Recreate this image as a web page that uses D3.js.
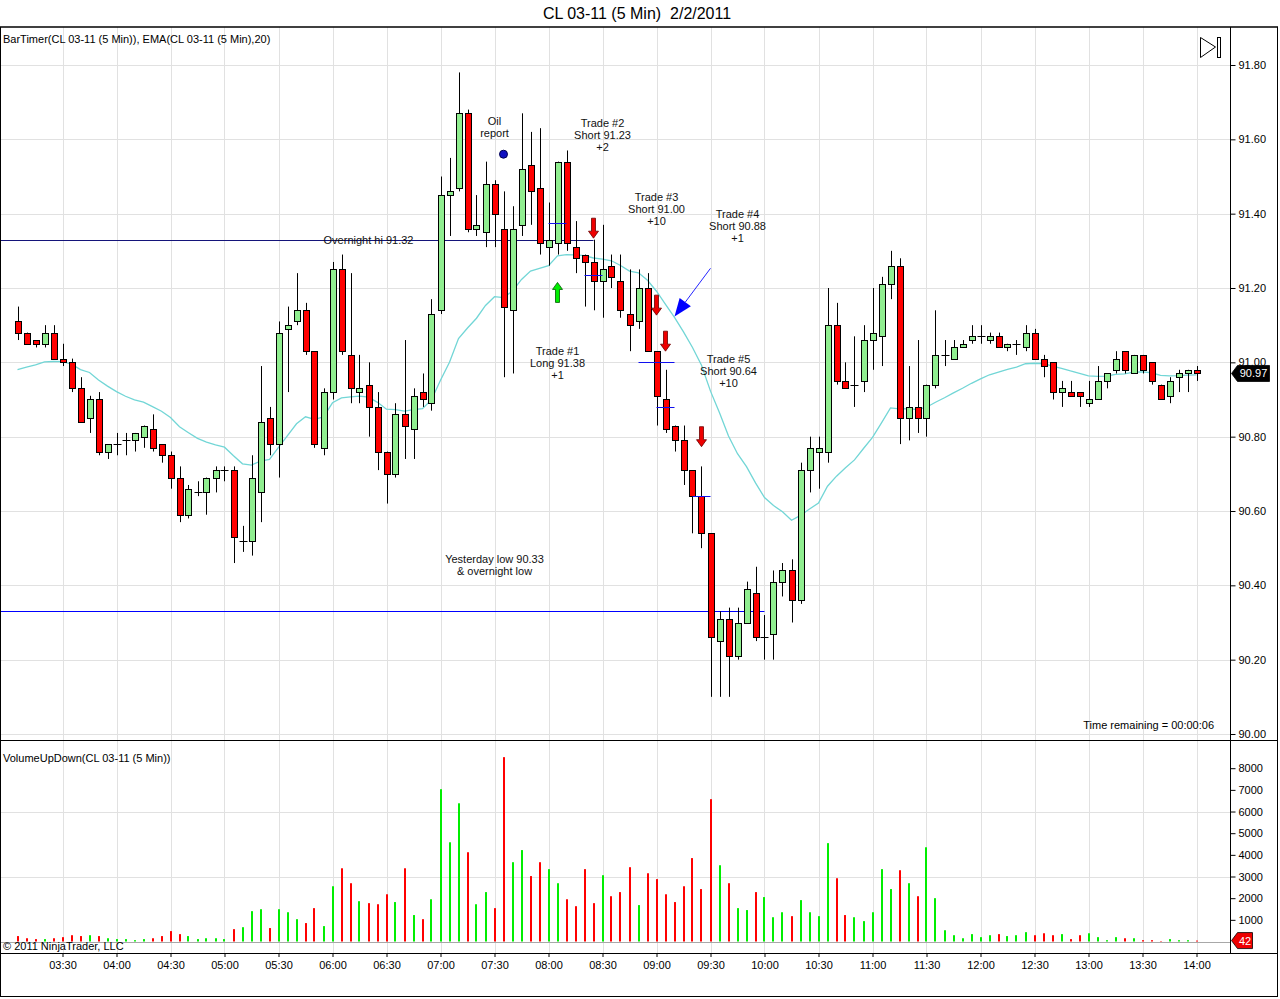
<!DOCTYPE html>
<html>
<head>
<meta charset="utf-8">
<script src="https://cdn.jsdelivr.net/npm/d3@7"></script>
<style>
  body { margin: 0; background: #fff; }
  svg { display: block; }
  text { font-family: "Liberation Sans", Arial, sans-serif; }
</style>
</head>
<body>
<svg id="chart"></svg>
<script>
// --- bar data, CL 03-11 5 min, 2/2/2011 ---
const startTime = "03:05";
const opens = [91.11,91.08,91.06,91.05,91.08,91.01,91.00,90.93,90.85,90.90,90.76,90.78,90.79,90.79,90.80,90.82,90.78,90.75,90.69,90.59,
  90.65,90.65,90.69,90.71,90.71,90.52,90.52,90.65,90.85,90.78,91.09,91.11,91.14,91.03,90.77,90.92,91.25,91.02,90.92,90.94,
  90.88,90.76,90.70,90.86,90.82,90.92,90.89,91.14,91.45,91.47,91.67,91.36,91.35,91.48,91.36,91.14,91.37,91.53,91.47,91.31,
  91.32,91.54,91.31,91.29,91.27,91.22,91.26,91.22,91.13,91.11,91.20,91.03,90.90,90.83,90.79,90.71,90.64,90.54,90.25,90.31,
  90.21,90.30,90.38,90.26,90.27,90.41,90.44,90.36,90.71,90.76,90.76,91.10,90.95,90.94,90.95,91.06,91.07,91.21,91.26,90.85,
  90.88,90.85,90.94,91.02,91.01,91.04,91.06,91.07,91.06,91.07,91.04,91.05,91.04,91.08,91.01,91.00,90.92,90.92,90.92,90.89,
  90.90,90.95,90.98,91.03,90.97,91.02,91.00,90.94,90.91,90.96,90.97,90.98];
const highs = [91.15,91.08,91.06,91.10,91.10,91.05,91.01,90.96,90.91,90.92,90.78,90.81,90.81,90.81,90.83,90.86,90.78,90.76,90.72,90.67,
  90.68,90.69,90.72,90.72,90.72,90.56,90.75,90.99,90.88,91.11,91.15,91.24,91.16,91.03,90.93,91.27,91.29,91.24,91.02,91.00,
  90.92,90.76,90.89,91.06,90.93,90.97,91.17,91.50,91.55,91.78,91.68,91.45,91.54,91.49,91.46,91.42,91.67,91.62,91.63,91.43,
  91.54,91.57,91.38,91.29,91.33,91.37,91.29,91.29,91.25,91.25,91.24,91.03,90.98,90.83,90.83,90.71,90.72,90.54,90.33,90.34,
  90.34,90.41,90.45,90.32,90.44,90.46,90.47,90.73,90.80,90.80,91.20,91.16,91.00,91.07,91.10,91.20,91.23,91.30,91.28,90.99,
  91.06,90.94,91.14,91.06,91.06,91.06,91.10,91.10,91.08,91.08,91.05,91.06,91.10,91.09,91.02,91.00,90.95,90.95,90.92,90.95,
  90.99,90.97,91.03,91.03,91.02,91.02,91.00,90.94,90.96,90.98,90.98,90.99];
const lows = [91.06,91.05,91.04,91.04,91.01,90.99,90.92,90.84,90.81,90.75,90.74,90.75,90.75,90.76,90.77,90.76,90.73,90.66,90.57,90.58,
  90.64,90.59,90.65,90.68,90.46,90.49,90.48,90.57,90.75,90.69,90.92,91.10,91.02,90.77,90.75,90.90,91.02,90.89,90.89,90.80,
  90.71,90.62,90.69,90.74,90.74,90.88,90.87,91.13,91.34,91.46,91.35,91.34,91.31,91.31,90.96,90.97,91.34,91.37,91.29,91.26,
  91.29,91.30,91.24,91.15,91.14,91.12,91.20,91.12,91.03,91.09,91.03,90.83,90.81,90.76,90.67,90.54,90.50,90.10,90.10,90.10,
  90.20,90.30,90.25,90.20,90.20,90.37,90.30,90.35,90.65,90.66,90.73,90.94,90.93,90.88,90.92,90.98,90.99,91.17,90.78,90.79,
  90.81,90.80,90.93,90.99,91.01,91.04,91.05,91.05,91.05,91.04,91.03,91.02,91.03,91.01,90.96,90.90,90.88,90.91,90.88,90.88,
  90.90,90.93,90.97,90.97,90.97,90.97,90.94,90.90,90.89,90.92,90.92,90.95];
const closes = [91.08,91.05,91.05,91.08,91.01,91.00,90.93,90.84,90.90,90.76,90.78,90.78,90.79,90.81,90.83,90.77,90.75,90.69,90.59,90.66,
  90.65,90.69,90.71,90.71,90.53,90.52,90.69,90.84,90.78,91.08,91.10,91.14,91.03,90.78,90.92,91.25,91.03,90.93,90.93,90.88,
  90.76,90.70,90.86,90.83,90.91,90.90,91.13,91.45,91.46,91.67,91.36,91.37,91.48,91.40,91.15,91.36,91.52,91.46,91.32,91.33,
  91.54,91.32,91.28,91.27,91.22,91.25,91.23,91.14,91.10,91.20,91.03,90.91,90.82,90.79,90.71,90.64,90.54,90.26,90.31,90.21,
  90.30,90.39,90.26,90.26,90.41,90.44,90.36,90.71,90.77,90.77,91.10,90.95,90.93,90.94,91.06,91.08,91.21,91.26,90.85,90.88,
  90.85,90.94,91.02,91.02,91.04,91.05,91.07,91.07,91.07,91.04,91.05,91.05,91.08,91.01,90.99,90.92,90.93,90.91,90.91,90.90,
  90.95,90.97,91.01,90.98,91.02,90.98,90.95,90.90,90.95,90.97,90.98,90.97];
const volumes = [250,150,110,110,150,200,290,250,290,250,150,110,110,60,110,150,250,480,340,250,
  110,150,150,110,570,660,1400,1490,620,1490,1350,1030,850,1540,710,2550,3380,2690,1860,1770,
  1720,2180,1820,3380,1220,1030,1950,7030,4580,6380,4120,1720,2280,1540,8510,3660,4220,3020,3660,3340,
  2690,1950,1630,3340,1770,3060,2090,2280,3430,1680,3150,2880,2180,1820,2550,3850,2420,6570,3520,2690,
  1540,1450,2280,2050,1120,1350,1170,1910,1350,1170,4540,2920,1220,1120,940,1350,3340,2420,3290,2690,
  2090,4350,2000,520,290,150,340,200,290,340,250,290,430,290,380,290,340,110,290,380,
  200,60,200,150,150,60,60,20,110,60,60,42];

const emaPeriod = 20;
const emaSeed = 90.97;   // EMA value carried in from before the first bar

const timeTicks = ["03:30","04:00","04:30","05:00","05:30","06:00","06:30","07:00","07:30","08:00","08:30",
  "09:00","09:30","10:00","10:30","11:00","11:30","12:00","12:30","13:00","13:30","14:00"];
const priceTicks = [90.00,90.20,90.40,90.60,90.80,91.00,91.20,91.40,91.60,91.80];
const volumeTicks = [1000,2000,3000,4000,5000,6000,7000,8000];
const volumeGrid = [3000,6000];

// levels and trades marked on the chart
const overnightHi = {price: 91.33, end: "08:25", label: "Overnight hi 91.32", at: "06:20"};
const yesterdayLow = {price: 90.33, end: "10:00", label: ["Yesterday low 90.33", "& overnight low"], at: "07:30", labelPrice: 90.47};
const tradeNotes = [
  {lines: ["Oil", "report"], time: "07:30", price: 91.65},
  {lines: ["Trade #1", "Long 91.38", "+1"], time: "08:05", price: 91.03},
  {lines: ["Trade #2", "Short 91.23", "+2"], time: "08:30", price: 91.645},
  {lines: ["Trade #3", "Short 91.00", "+10"], time: "09:00", price: 91.445},
  {lines: ["Trade #4", "Short 90.88", "+1"], time: "09:45", price: 91.40},
  {lines: ["Trade #5", "Short 90.64", "+10"], time: "09:40", price: 91.01}
];
const entryTimes = ["08:05","08:25","09:00","09:05","09:25"];
const entryPrices = [91.375, 91.235, 91.00, 90.88, 90.64];
const entrySpan = [1, 1, 2, 1, 1];
const upArrows = [{time: "08:05", price: 91.215}];
const downArrows = [
  {time: "08:25", price: 91.334},
  {time: "09:00", price: 91.127},
  {time: "09:05", price: 91.03},
  {time: "09:25", price: 90.773}
];
const oilDot = {time: "07:35", price: 91.56};
const pointer = {from: {time: "09:30", price: 91.253}, to: {time: "09:10", price: 91.123}};
const lastPrice = 90.97;
const lastVolume = 42;

// --- layout ---
const W = 1280, H = 999;
const axisX = 1230.5;
const priceTop = 27, priceBottom = 740, volBottom = 953;

const svg = d3.select("#chart")
  .attr("width", W)
  .attr("height", H)
  .style("background-color", "#fff");

const parse = d3.timeParse("%H:%M");
const t0 = parse(startTime);
const barTimes = closes.map((d, i) => d3.timeMinute.offset(t0, 5 * i));

const x = d3.scaleTime()
  .domain([t0, barTimes[barTimes.length - 1]])
  .range([17.5, 1196.5]);
const y = d3.scaleLinear().domain([90, 91.8]).range([734, 65]);
const yv = d3.scaleLinear().domain([0, 8000]).range([941.5, 768.2]);

const px = t => x(parse(t));
const snap = v => Math.round(v) + 0.5;

// grid
const grid = svg.append("g").attr("stroke", "#e1e1e1").attr("stroke-width", 1);
grid.selectAll(".vg")
  .data(timeTicks)
  .join("line")
  .attr("x1", d => snap(px(d))).attr("x2", d => snap(px(d)))
  .attr("y1", priceTop).attr("y2", volBottom);
grid.selectAll(".hg")
  .data(priceTicks)
  .join("line")
  .attr("x1", 0).attr("x2", axisX)
  .attr("y1", d => snap(y(d))).attr("y2", d => snap(y(d)));
grid.selectAll(".vhg")
  .data(volumeGrid)
  .join("line")
  .attr("x1", 0).attr("x2", axisX)
  .attr("y1", d => snap(yv(d))).attr("y2", d => snap(yv(d)));
svg.append("line")
  .attr("x1", 0).attr("x2", axisX)
  .attr("y1", snap(yv(0))).attr("y2", snap(yv(0)))
  .attr("stroke", "#a8a8a8");

// EMA(20) of the closes
let ema = emaSeed;
const emaValues = closes.map(c => (ema = ema + (2 / (emaPeriod + 1)) * (c - ema)));
svg.append("path")
  .datum(emaValues)
  .attr("fill", "none")
  .attr("stroke", "#72d6d6")
  .attr("stroke-width", 1.3)
  .attr("d", d3.line().x((d, i) => x(barTimes[i])).y(d => y(d)));

// levels
svg.append("line")
  .attr("x1", 0).attr("x2", px(overnightHi.end))
  .attr("y1", snap(y(overnightHi.price))).attr("y2", snap(y(overnightHi.price)))
  .attr("stroke", "#14147a");
svg.append("line")
  .attr("x1", 0).attr("x2", px(yesterdayLow.end))
  .attr("y1", snap(y(yesterdayLow.price))).attr("y2", snap(y(yesterdayLow.price)))
  .attr("stroke", "#0000ff");

// candles
const bars = closes.map((c, i) => ({t: barTimes[i], o: opens[i], h: highs[i], l: lows[i], c: c, v: volumes[i]}));
const candle = svg.append("g").selectAll("g")
  .data(bars)
  .join("g");
candle.append("line")
  .attr("x1", d => snap(x(d.t))).attr("x2", d => snap(x(d.t)))
  .attr("y1", d => y(d.h)).attr("y2", d => y(d.l))
  .attr("stroke", "#000");
candle.filter(d => Math.abs(y(d.o) - y(d.c)) >= 1)
  .append("rect")
  .attr("x", d => snap(x(d.t)) - 3)
  .attr("y", d => snap(y(Math.max(d.o, d.c))))
  .attr("width", 6)
  .attr("height", d => snap(y(Math.min(d.o, d.c))) - snap(y(Math.max(d.o, d.c))))
  .attr("fill", d => d.c >= d.o ? "#90ee90" : "#ff0000")
  .attr("stroke", "#000");
candle.filter(d => Math.abs(y(d.o) - y(d.c)) < 1)
  .append("line")
  .attr("x1", d => snap(x(d.t)) - 4).attr("x2", d => snap(x(d.t)) + 4)
  .attr("y1", d => snap(y(d.c))).attr("y2", d => snap(y(d.c)))
  .attr("stroke", "#000");

// volume
svg.append("g").selectAll("rect")
  .data(bars)
  .join("rect")
  .attr("x", d => Math.round(x(d.t)) - 1)
  .attr("y", d => yv(d.v))
  .attr("width", 2)
  .attr("height", d => yv(0) - yv(d.v))
  .attr("fill", d => d.c >= d.o ? "#00ee00" : "#ff0000");

// entry marks
svg.append("g").selectAll("line")
  .data(entryTimes)
  .join("line")
  .attr("x1", (d, i) => px(d) - 9 * entrySpan[i])
  .attr("x2", (d, i) => px(d) + 9 * entrySpan[i])
  .attr("y1", (d, i) => snap(y(entryPrices[i])))
  .attr("y2", (d, i) => snap(y(entryPrices[i])))
  .attr("stroke", "#1010ee");

// trade arrows
function arrowPath(cx, tip, dir) {
  // dir = 1 points down, -1 points up
  const s = -dir;
  return `M${cx},${tip} L${cx - 5},${tip + s * 7} L${cx - 2},${tip + s * 7} L${cx - 2},${tip + s * 20}` +
    ` L${cx + 2},${tip + s * 20} L${cx + 2},${tip + s * 7} L${cx + 5},${tip + s * 7} Z`;
}
svg.append("g").selectAll("path")
  .data(downArrows)
  .join("path")
  .attr("d", d => arrowPath(px(d.time), y(d.price), 1))
  .attr("fill", "#ee0000")
  .attr("stroke", "#6a0000")
  .attr("stroke-width", 0.8);
svg.append("g").selectAll("path")
  .data(upArrows)
  .join("path")
  .attr("d", d => arrowPath(px(d.time), y(d.price), -1))
  .attr("fill", "#00ee00")
  .attr("stroke", "#005500")
  .attr("stroke-width", 0.8);

// pointer arrow towards trade #4
const p1 = [px(pointer.from.time), y(pointer.from.price)];
const p2 = [px(pointer.to.time), y(pointer.to.price)];
const len = Math.hypot(p2[0] - p1[0], p2[1] - p1[1]);
const ux = (p2[0] - p1[0]) / len, uy = (p2[1] - p1[1]) / len;
const bx = p2[0] - ux * 18, by = p2[1] - uy * 18;
svg.append("line")
  .attr("x1", p1[0]).attr("y1", p1[1]).attr("x2", bx).attr("y2", by)
  .attr("stroke", "#2424ff").attr("stroke-width", 1);
svg.append("path")
  .attr("d", `M${p2[0]},${p2[1]} L${bx - uy * 7},${by + ux * 7} L${bx + uy * 7},${by - ux * 7} Z`)
  .attr("fill", "#0000ff");

svg.append("circle")
  .attr("cx", px(oilDot.time)).attr("cy", y(oilDot.price))
  .attr("r", 4)
  .attr("fill", "#1010c0")
  .attr("stroke", "#000050");

// notes
const noteG = svg.append("g")
  .attr("font-size", 11)
  .attr("fill", "#111")
  .attr("text-anchor", "middle");
tradeNotes.forEach(n => {
  n.lines.forEach((line, k) => {
    noteG.append("text")
      .attr("x", px(n.time))
      .attr("y", y(n.price) + 12 * k + 4)
      .text(line);
  });
});
noteG.append("text")
  .attr("x", px(overnightHi.at))
  .attr("y", y(overnightHi.price) + 4)
  .text(overnightHi.label);
yesterdayLow.label.forEach((line, k) => {
  noteG.append("text")
    .attr("x", px(yesterdayLow.at))
    .attr("y", y(yesterdayLow.labelPrice) + 12 * k + 4)
    .text(line);
});

// axes
const priceAxis = svg.append("g")
  .attr("transform", `translate(${axisX},0)`)
  .call(d3.axisRight(y).tickValues(priceTicks).tickFormat(d3.format(".2f")).tickSize(5).tickPadding(3));
const volAxis = svg.append("g")
  .attr("transform", `translate(${axisX},0)`)
  .call(d3.axisRight(yv).tickValues(volumeTicks).tickFormat(d3.format("d")).tickSize(5).tickPadding(3));
const timeAxis = svg.append("g")
  .attr("transform", `translate(0,${volBottom})`)
  .call(d3.axisBottom(x).tickValues(timeTicks.map(parse)).tickFormat(d3.timeFormat("%H:%M")).tickSize(4).tickPadding(4));
[priceAxis, volAxis, timeAxis].forEach(a => {
  a.select(".domain").remove();
  a.selectAll("text").attr("font-size", 11).attr("fill", "#000")
    .attr("font-family", "\"Liberation Sans\", Arial, sans-serif");
  a.selectAll(".tick line").attr("stroke", "#000");
});

// frame
const frame = svg.append("g").attr("stroke", "#000").attr("fill", "none");
frame.append("line").attr("x1", 0).attr("x2", W - 2).attr("y1", priceTop).attr("y2", priceTop).attr("stroke-width", 1.6);
frame.append("line").attr("x1", 0.5).attr("x2", 0.5).attr("y1", priceTop).attr("y2", H - 2);
frame.append("line").attr("x1", W - 2.5).attr("x2", W - 2.5).attr("y1", priceTop).attr("y2", H - 2);
frame.append("line").attr("x1", 0).attr("x2", W - 2).attr("y1", H - 2.5).attr("y2", H - 2.5);
frame.append("line").attr("x1", 0).attr("x2", W - 2).attr("y1", priceBottom + 0.5).attr("y2", priceBottom + 0.5);
frame.append("line").attr("x1", 0).attr("x2", W - 2).attr("y1", volBottom + 0.5).attr("y2", volBottom + 0.5);
frame.append("line").attr("x1", axisX).attr("x2", axisX).attr("y1", priceTop).attr("y2", volBottom);

// bar timer button
frame.append("path").attr("d", "M1200.5,37.5 L1215.5,47 L1200.5,57.5 Z");
frame.append("rect").attr("x", 1217.5).attr("y", 37.5).attr("width", 3).attr("height", 20);

// last price / volume markers
function marker(yPos, w, fill, label) {
  const g = svg.append("g");
  g.append("path")
    .attr("d", `M${axisX + 1},${yPos} L${axisX + 7},${yPos - 8} L${axisX + 7 + w},${yPos - 8} L${axisX + 7 + w},${yPos + 8} L${axisX + 7},${yPos + 8} Z`)
    .attr("fill", fill)
    .attr("stroke", "#000")
    .attr("stroke-width", 0.8);
  g.append("text")
    .attr("x", axisX + 7 + w / 2).attr("y", yPos + 4)
    .attr("text-anchor", "middle")
    .attr("font-size", 11)
    .attr("fill", "#fff")
    .text(label);
}
marker(y(lastPrice), 32, "#000", d3.format(".2f")(lastPrice));
marker(yv(lastVolume), 15, "#ee0000", lastVolume);

// labels
svg.append("text")
  .attr("x", 637).attr("y", 19)
  .attr("text-anchor", "middle")
  .attr("font-size", 16)
  .style("white-space", "pre")
  .text("CL 03-11 (5 Min)  2/2/2011");
svg.append("text").attr("x", 3).attr("y", 43).attr("font-size", 11)
  .text("BarTimer(CL 03-11 (5 Min)), EMA(CL 03-11 (5 Min),20)");
svg.append("text").attr("x", 3).attr("y", 762).attr("font-size", 11)
  .text("VolumeUpDown(CL 03-11 (5 Min))");
svg.append("text").attr("x", 3).attr("y", 950).attr("font-size", 11)
  .text("\u00a9 2011 NinjaTrader, LLC");
svg.append("text").attr("x", 1214).attr("y", 729).attr("font-size", 11)
  .attr("text-anchor", "end")
  .text("Time remaining = 00:00:06");
</script>
</body>
</html>
